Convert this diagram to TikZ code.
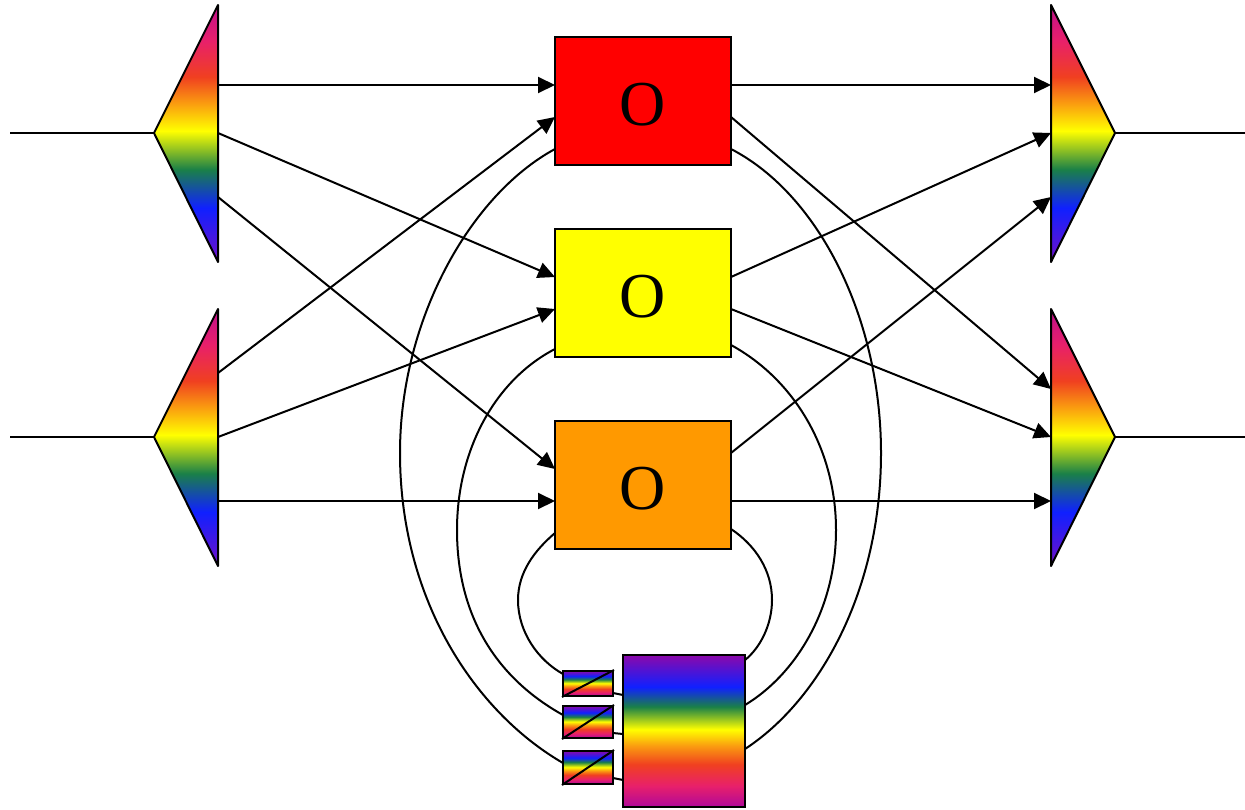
\documentclass[tikz,border=0pt]{standalone}
\usepackage{xcolor}
\usepackage{fontspec}
\setmainfont{Liberation Serif}
\usetikzlibrary{arrows.meta}

\definecolor{bowviolet}{HTML}{7010C8}
\definecolor{bowpurple}{HTML}{8C08AA}
\definecolor{bowblue}{HTML}{1020FF}
\definecolor{bowgreen}{HTML}{1A8048}
\definecolor{bowyellow}{HTML}{FFFF00}
\definecolor{boworange}{HTML}{FA9A10}
\definecolor{bowred}{HTML}{F04020}
\definecolor{bowpink}{HTML}{E8206A}
\definecolor{bowmagenta}{HTML}{C0108C}
\definecolor{bowplum}{HTML}{B0089A}
\definecolor{boxred}{HTML}{FF0000}
\definecolor{boxyellow}{HTML}{FFFF00}
\definecolor{boxorange}{HTML}{FF9900}
\pgfdeclareverticalshading{rainbow}{100bp}{
    color(0bp)=(bowviolet); color(25bp)=(bowviolet);
    color(35.5bp)=(bowblue); color(43bp)=(bowgreen);
    color(50.5bp)=(bowyellow); color(56bp)=(boworange);
    color(61bp)=(bowred); color(68bp)=(bowpink);
    color(75bp)=(bowmagenta); color(100bp)=(bowmagenta)}
\pgfdeclareverticalshading{stackbow}{100bp}{
    color(0bp)=(bowpurple); color(25bp)=(bowpurple);
    color(35.5bp)=(bowblue); color(42bp)=(bowgreen);
    color(49.5bp)=(bowyellow); color(55bp)=(boworange);
    color(61bp)=(bowred); color(68bp)=(bowpink);
    color(75bp)=(bowplum); color(100bp)=(bowplum)}

\begin{document}
\begin{tikzpicture}[
    x = 1pt, y = -1pt,
    > = {Triangle[length=17pt,width=16pt]}, % arrow head style
    node distance = 192pt, % distance between converters
    line width = 2pt, % line style
    wedge/.style = {draw = black, line join = round, shading = rainbow},
    converter/.style = {
        draw = black,
        inner sep = 0pt,
        minimum width = 176pt,
        minimum height = 128pt,
        text height = 50pt,
        text depth = 0.8pt,
        font = \fontsize{64}{64}\selectfont
    },
    stack/.style = {
        draw = black,
        inner sep = 0pt,
        shading = stackbow,
        shading angle = 180
    }
]
\useasboundingbox (0,0) rectangle (1245,809);

% wedges
\path[wedge] (218,5) -- (218,262) -- (154,133) -- cycle;
\path[wedge] (218,309) -- (218,566) -- (154,437) -- cycle;
\path[wedge] (1051,5) -- (1051,262) -- (1115,133) -- cycle;
\path[wedge] (1051,309) -- (1051,566) -- (1115,437) -- cycle;

% converters
\node[converter, fill=boxred] (red) at (643,101) {O};
\node[converter, fill=boxyellow] (yellow) [below of=red] {O};
\node[converter, fill=boxorange] (orange) [below of=yellow] {O};

% laser stack
\node[stack, minimum width=122pt, minimum height=152pt] (mux) at (684,731) {};
\node[stack, minimum width=50pt, minimum height=25pt] (las1) at (588,683.5) {};
\node[stack, minimum width=50pt, minimum height=32pt] (las2) at (588,722) {};
\node[stack, minimum width=50pt, minimum height=33pt] (las3) at (588,767.5) {};

% ports
\coordinate (inA) at (10,133);
\coordinate (tipA) at (154,133);
\coordinate (inB) at (10,437);
\coordinate (tipB) at (154,437);
\coordinate (tipC) at (1115,133);
\coordinate (outC) at (1245,133);
\coordinate (tipD) at (1115,437);
\coordinate (outD) at (1245,437);

\coordinate (a1) at (218,85);
\coordinate (a2) at (218,133);
\coordinate (a3) at (218,197);
\coordinate (b1) at (218,373);
\coordinate (b2) at (218,437);
\coordinate (b3) at (218,501);
\coordinate (c1) at (1051,85);
\coordinate (c2) at (1051,133);
\coordinate (c3) at (1051,197);
\coordinate (d1) at (1051,389);
\coordinate (d2) at (1051,437);
\coordinate (d3) at (1051,501);

\coordinate (redW1) at (555,85);
\coordinate (redW2) at (555,117);
\coordinate (redE1) at (731,85);
\coordinate (redE2) at (731,117);
\coordinate (yellowW1) at (555,277);
\coordinate (yellowW2) at (555,309);
\coordinate (yellowE1) at (731,277);
\coordinate (yellowE2) at (731,309);
\coordinate (orangeW1) at (555,469);
\coordinate (orangeW2) at (555,501);
\coordinate (orangeE1) at (731,453);
\coordinate (orangeE2) at (731,501);

\coordinate (redSW) at (555,149);
\coordinate (redSE) at (731,149);
\coordinate (yellowSW) at (555,349);
\coordinate (yellowSE) at (731,345);
\coordinate (orangeSW) at (555,533);
\coordinate (orangeSE) at (731,529);
\coordinate (las1W) at (563,674);
\coordinate (las2W) at (563,715);
\coordinate (las3W) at (563,763);
\coordinate (muxE1) at (745,660);
\coordinate (muxE2) at (745,705);
\coordinate (muxE3) at (745,749);
\coordinate (las1E) at (613,693);
\coordinate (las2E) at (613,733);
\coordinate (las3E) at (613,778);
\coordinate (mux1) at (623,695);
\coordinate (mux2) at (623,734);
\coordinate (mux3) at (623,780);

% fibres
\draw (inA) -- (tipA);
\draw (inB) -- (tipB);
\draw (tipC) -- (outC);
\draw (tipD) -- (outD);

\path[->] (a1) edge (redW1);
\path[->] (a2) edge (yellowW1);
\path[->] (a3) edge (orangeW1);
\path[->] (b1) edge (redW2);
\path[->] (b2) edge (yellowW2);
\path[->] (b3) edge (orangeW2);

\path[->] (redE1) edge (c1);
\path[->] (redE2) edge (d1);
\path[->] (yellowE1) edge (c2);
\path[->] (yellowE2) edge (d2);
\path[->] (orangeE1) edge (c3);
\path[->] (orangeE2) edge (d3);

% loops round the converters
\draw (redSW) .. controls (470,195) and (400,320) .. (400,453)
    .. controls (400,600) and (475,712) .. (las3W);
\draw (yellowSW) .. controls (495,380) and (457,450) .. (457,530)
    .. controls (457,620) and (500,680) .. (las2W);
\draw (orangeSW) .. controls (535,550) and (518,572) .. (518,600)
    .. controls (518,632) and (538,660) .. (las1W);
\draw (redSE) .. controls (820,195) and (881,320) .. (881,453)
    .. controls (881,590) and (820,700) .. (muxE3);
\draw (yellowSE) .. controls (795,380) and (836,450) .. (836,530)
    .. controls (836,610) and (795,675) .. (muxE2);
\draw (orangeSE) .. controls (755,545) and (772,570) .. (772,600)
    .. controls (772,625) and (760,648) .. (muxE1);

\draw (las1.south west) -- (las1.north east);
\draw (las2.south west) -- (las2.north east);
\draw (las3.south west) -- (las3.north east);
\draw (las1E) -- (mux1);
\draw (las2E) -- (mux2);
\draw (las3E) -- (mux3);

\end{tikzpicture}
\end{document}
